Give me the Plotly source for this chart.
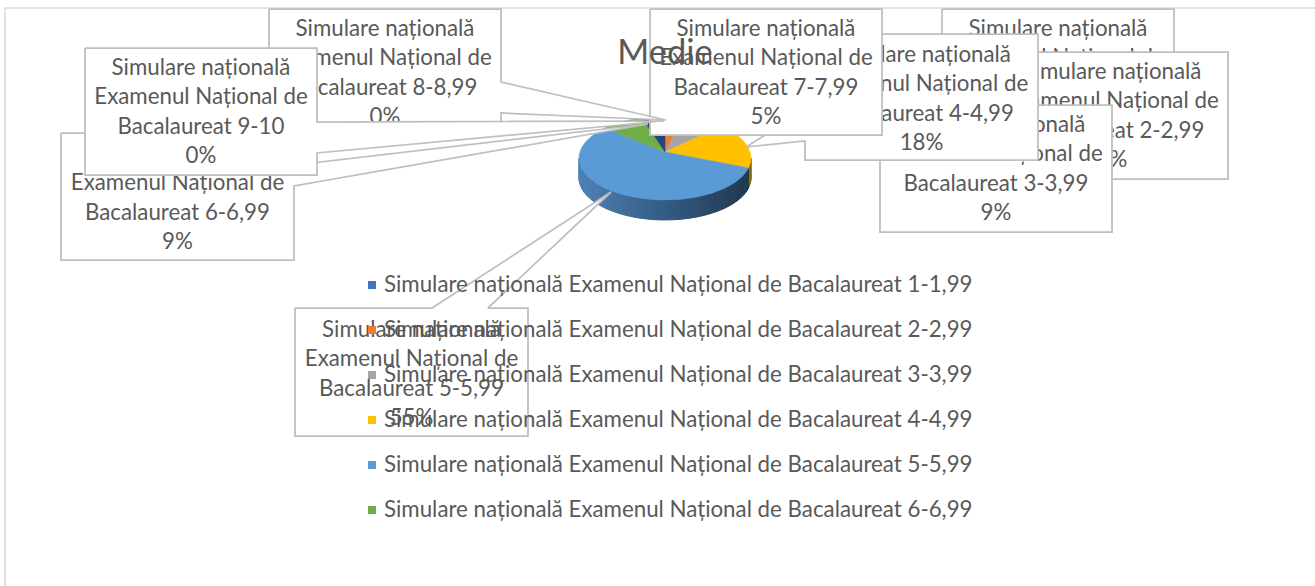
import math
import plotly.graph_objects as go

# ---- data ----
PREFIX = "Simulare națională Examenul Național de Bacalaureat "
RANGES = ["1-1,99", "2-2,99", "3-3,99", "4-4,99", "5-5,99", "6-6,99", "7-7,99", "8-8,99", "9-10"]
PERCENT = [0, 4, 9, 18, 55, 9, 5, 0, 0]
COLORS = ["#4472C4", "#ED7D31", "#A5A5A5", "#FFC000", "#5B9BD5", "#70AD47", "#264478", "#9E480E", "#636363"]
TITLE = "Medie"
LEGEND_COUNT = 6  # the legend is cut off after six entries in the reference

# ---- layout (pixels) ----
W, H = 1315, 586
APEX = (665, 152)          # projected centre of the disc
RX0, RY0, PERSP, DEPTH = 85.1, 41.1, 1 / 7, 20
TEXT_COLOR = "#595959"
EDGE = "#BFBFBF"
FONT = "Lato"
LABEL_SIZE = 22.3
LINE_GAP = 29.4
BOXES = {
    0: dict(r=(942, 9, 1174, 135), y=30.5, ptr=[]),
    1: dict(r=(996, 52, 1228, 179), y=73.5, ptr=[]),
    2: dict(r=(880, 105, 1112, 232), y=126.5, ptr=[]),
    3: dict(r=(805, 34, 1038, 160), y=56.5, ptr=[(805, 141), (746, 147), (805, 110)]),
    4: dict(r=(295, 308, 528, 436), y=331.5, ptr=[]),
    5: dict(r=(61, 133, 294, 260), y=155.5, ptr=[]),
    6: dict(r=(650, 9, 882, 135), y=30.5, ptr=[]),
    7: dict(r=(269, 9, 501, 123), y=30.5, ptr=[]),
    8: dict(r=(85, 48, 317, 175), y=69.5, ptr=[]),
}
RIGHT_PTR = {
    5: [(294, 165), (648, 124), (294, 186)],
    7: [(501, 82), (666, 120), (501, 113)],
    8: [(317, 122), (664, 121), (317, 153)],
}
TOP_PTR = {4: [(432, 308), (611, 192), (488, 308)]}
LEGEND_X, LEGEND_TEXT_X, LEGEND_Y, LEGEND_GAP = 372, 384, 286, 45


def wrap(rng, pct):
    return ["Simulare națională", "Examenul Național de", "Bacalaureat " + rng, f"{pct}%"]


def point(theta):
    d = 1 + PERSP * math.cos(theta)
    return APEX[0] + RX0 * math.sin(theta) / d, APEX[1] - RY0 * math.cos(theta) / d


def mix(a, b, t):
    return "rgb(%d,%d,%d)" % tuple(round(a[i] + (b[i] - a[i]) * t) for i in range(3))


fig = go.Figure()

# frame
fig.add_trace(go.Scatter(x=[5, 5, W + 5], y=[H + 5, 8, 8], mode="lines",
                         line=dict(color="#D9D9D9", width=1.5), hoverinfo="skip", showlegend=False))

# pie: angles come from the percentages
total = sum(PERCENT)
angles = []
acc = 0
for p in PERCENT:
    angles.append((acc / total * 2 * math.pi, (acc + p) / total * 2 * math.pi))
    acc += p

# rim (visible front of the disc, between the two silhouette angles)
rim_start = math.acos(-PERSP)
rim_end = 2 * math.pi - rim_start
xmin, xmax = point(rim_end)[0], point(rim_start)[0]
STEPS = 60
for i in range(STEPS):
    a = rim_start + (rim_end - rim_start) * i / STEPS
    b = rim_start + (rim_end - rim_start) * (i + 1) / STEPS
    pa, pb = point(a), point(b)
    t = (pa[0] - xmin) / (xmax - xmin)
    if a < angles[3][1]:
        col = "#8A6B00"
    elif t < 0.5:
        col = mix((78, 130, 181), (52, 92, 132), t / 0.5)
    else:
        col = mix((52, 92, 132), (32, 56, 80), (t - 0.5) / 0.5)
    fig.add_trace(go.Scatter(
        x=[pa[0], pb[0], pb[0], pa[0], pa[0]],
        y=[pa[1], pb[1], pb[1] + DEPTH, pa[1] + DEPTH, pa[1]],
        mode="lines", fill="toself", fillcolor=col, line=dict(color=col, width=1),
        hoverinfo="skip", showlegend=False))

# top face
for k, (a0, a1) in enumerate(angles):
    if a1 - a0 <= 0:
        continue
    n = max(2, int((a1 - a0) / 0.03))
    arc = [point(a0 + (a1 - a0) * j / n) for j in range(n + 1)]
    xs = [APEX[0]] + [q[0] for q in arc] + [APEX[0]]
    ys = [APEX[1]] + [q[1] for q in arc] + [APEX[1]]
    fig.add_trace(go.Scatter(x=xs, y=ys, mode="lines", fill="toself", fillcolor=COLORS[k],
                             line=dict(color=COLORS[k], width=0.5),
                             name=PREFIX + RANGES[k], hoverinfo="name", showlegend=False))

# data-label callouts, in stacking order
for k in range(len(RANGES)):
    box = BOXES[k]
    x0, y0, x1, y1 = box["r"]
    top = TOP_PTR.get(k, [])
    right = RIGHT_PTR.get(k, [])
    left = box["ptr"]
    verts = [(x0, y0)] + top + [(x1, y0)] + right + [(x1, y1), (x0, y1)] + left + [(x0, y0)]
    fig.add_trace(go.Scatter(x=[v[0] for v in verts], y=[v[1] for v in verts], mode="lines",
                             fill="toself", fillcolor="#FFFFFF",
                             line=dict(color=EDGE, width=1.75), hoverinfo="skip", showlegend=False))
    lines = wrap(RANGES[k], PERCENT[k])
    fig.add_trace(go.Scatter(x=[(x0 + x1) / 2] * 4, y=[box["y"] + i * LINE_GAP for i in range(4)],
                             mode="text", text=lines, textposition="middle center",
                             textfont=dict(family=FONT, size=LABEL_SIZE, color=TEXT_COLOR),
                             hoverinfo="skip", showlegend=False))

# legend (drawn above the callouts, as in the reference)
for k in range(LEGEND_COUNT):
    y = LEGEND_Y + k * LEGEND_GAP
    fig.add_trace(go.Scatter(x=[LEGEND_X], y=[y - 1], mode="markers",
                             marker=dict(symbol="square", size=8, color=COLORS[k]),
                             hoverinfo="skip", showlegend=False))
    fig.add_trace(go.Scatter(x=[LEGEND_TEXT_X], y=[y], mode="text", text=[PREFIX + RANGES[k]],
                             textposition="middle right",
                             textfont=dict(family=FONT, size=LABEL_SIZE, color=TEXT_COLOR),
                             hoverinfo="skip", showlegend=False))

fig.update_layout(
    width=W, height=H, margin=dict(l=0, r=0, t=0, b=0),
    paper_bgcolor="white", plot_bgcolor="white", showlegend=False,
    title=dict(text=TITLE, x=665 / W, xref="paper", xanchor="center",
               y=1 - 52 / H, yref="paper", yanchor="middle",
               font=dict(family=FONT, size=34.5, color=TEXT_COLOR)),
    xaxis=dict(range=[0, W], visible=False, fixedrange=True),
    yaxis=dict(range=[H, 0], visible=False, fixedrange=True),
)
fig.write_html("out.html", config={"displayModeBar": False},
               post_script="document.body.style.margin='0';document.body.style.overflow='hidden';")
